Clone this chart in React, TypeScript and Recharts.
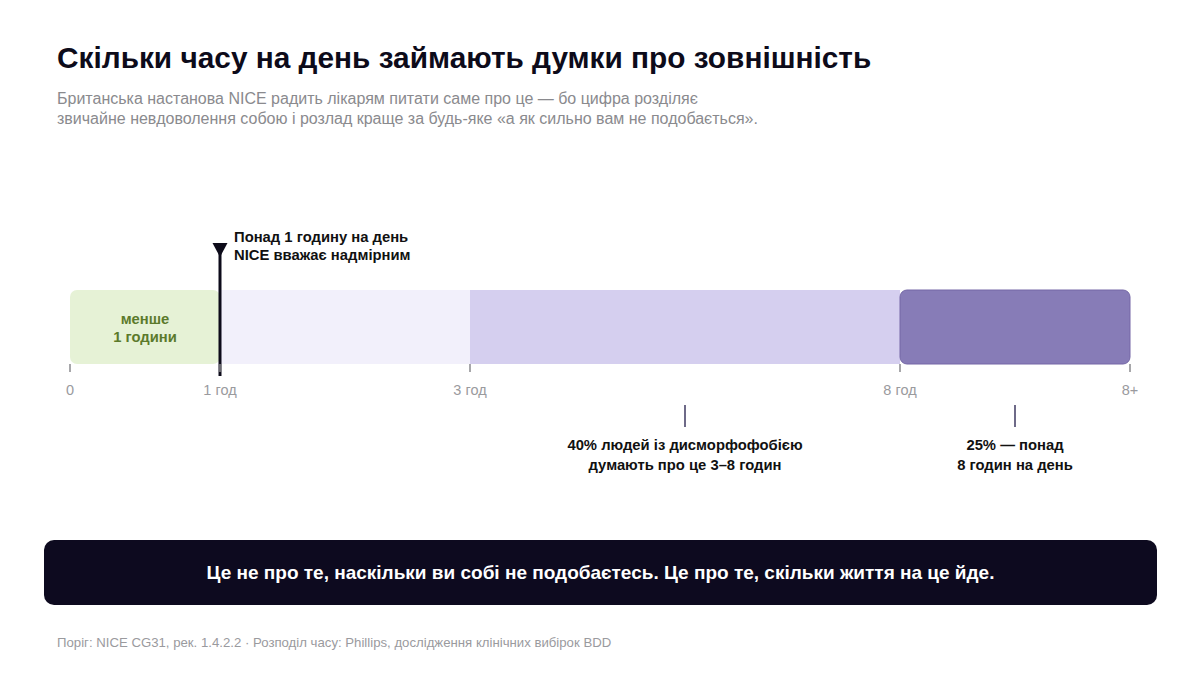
import { Bar, BarChart, LabelList, ReferenceLine, XAxis, YAxis } from 'recharts'

// hour boundaries of the segments; 12 stands in for the open "8+" end
const boundaries = [0, 1, 3, 8, 12]
const tickLabels = ['0', '1 год', '3 год', '8 год', '8+']
const segmentKeys = ['lt1', 'h1to3', 'h3to8', 'h8plus']
const segmentColors = ['#e6f2d6', '#f2f0fb', '#d5cfef', '#877cb7']
const greenLabel = ['менше', '1 години']

const thresholdHours = 1
const thresholdLabel = ['Понад 1 годину на день', 'NICE вважає надмірним']

const callouts = [
  { from: 3, to: 8, lines: ['40% людей із дисморфофобією', 'думають про це 3–8 годин'] },
  { from: 8, to: 12, lines: ['25% — понад', '8 годин на день'] },
]

const title = 'Скільки часу на день займають думки про зовнішність'
const subtitle = [
  'Британська настанова NICE радить лікарям питати саме про це — бо цифра розділяє',
  'звичайне невдоволення собою і розлад краще за будь-яке «а як сильно вам не подобається».',
]
const bannerText = 'Це не про те, наскільки ви собі не подобаєтесь. Це про те, скільки життя на це йде.'
const footer = 'Поріг: NICE CG31, рек. 1.4.2.2 · Розподіл часу: Phillips, дослідження клінічних вибірок BDD'

// visual share of the track given to each segment (the axis is not linear in hours)
const trackWeights = [150, 250, 430, 230]

const FONT = '"Liberation Sans", Arial, sans-serif'

function makePiecewiseScale(stops: number[], weights: number[]) {
  let dom = [stops[0], stops[stops.length - 1]]
  let rng = [0, 1]
  const total = weights.reduce((a, b) => a + b, 0)
  const fr = [0]
  weights.forEach((w) => fr.push(fr[fr.length - 1] + w / total))

  const toFrac = (v: number) => {
    if (v <= stops[0]) return 0
    if (v >= stops[stops.length - 1]) return 1
    for (let i = 0; i < stops.length - 1; i++) {
      if (v <= stops[i + 1]) {
        const t = (v - stops[i]) / (stops[i + 1] - stops[i])
        return fr[i] + t * (fr[i + 1] - fr[i])
      }
    }
    return 1
  }

  const scale: any = (v: number) => rng[0] + toFrac(Number(v)) * (rng[1] - rng[0])
  scale.domain = (d?: number[]) => {
    if (d === undefined) return dom.slice()
    dom = d.slice()
    return scale
  }
  scale.range = (r?: number[]) => {
    if (r === undefined) return rng.slice()
    rng = r.slice()
    return scale
  }
  scale.copy = () => makePiecewiseScale(stops, weights).domain(dom).range(rng)
  scale.ticks = () => stops.slice()
  scale.clamp = () => scale
  scale.invert = (px: number) => {
    const f = (px - rng[0]) / (rng[1] - rng[0])
    for (let i = 0; i < stops.length - 1; i++) {
      if (f <= fr[i + 1]) return stops[i] + ((f - fr[i]) / (fr[i + 1] - fr[i])) * (stops[i + 1] - stops[i])
    }
    return stops[stops.length - 1]
  }
  return scale
}

const hourScale = makePiecewiseScale(boundaries, trackWeights)

const row: Record<string, number | string> = { name: 'time' }
segmentKeys.forEach((k, i) => {
  row[k] = boundaries[i + 1] - boundaries[i]
})
const data = [row]

function ThresholdMarker(props: any) {
  const { x1, y1, y2 } = props
  const top = Math.min(y1, y2)
  const bottom = Math.max(y1, y2)
  return (
    <g>
      <line x1={x1} x2={x1} y1={top - 45} y2={bottom + 12} stroke="#0d0b1a" strokeWidth={3} />
      <polygon points={`${x1 - 7.5},${top - 47} ${x1 + 7.5},${top - 47} ${x1},${top - 33}`} fill="#0d0b1a" />
      {thresholdLabel.map((t, i) => (
        <text
          key={t}
          x={x1 + 14}
          y={top - 48 + i * 18}
          fontFamily={FONT}
          fontSize={14.8}
          fontWeight={700}
          fill="#111"
        >
          {t}
        </text>
      ))}
    </g>
  )
}

function calloutShape(lines: string[]) {
  return (props: any) => {
    const { x1, y1, y2 } = props
    const bottom = Math.max(y1, y2)
    return (
      <g>
        <line x1={x1} x2={x1} y1={bottom + 41} y2={bottom + 63} stroke="#6e6a88" strokeWidth={2} />
        {lines.map((t, i) => (
          <text
            key={t}
            x={x1}
            y={bottom + 86 + i * 20}
            textAnchor="middle"
            fontFamily={FONT}
            fontSize={14.8}
            fontWeight={700}
            fill="#111"
          >
            {t}
          </text>
        ))}
      </g>
    )
  }
}

function GreenLabel(props: any) {
  const { x, y, width, height } = props
  const cx = x + width / 2
  const cy = y + height / 2
  return (
    <g>
      {greenLabel.map((t, i) => (
        <text
          key={t}
          x={cx}
          y={cy - 3 + i * 18}
          textAnchor="middle"
          fontFamily={FONT}
          fontSize={14.8}
          fontWeight={700}
          fill="#5b7a2b"
        >
          {t}
        </text>
      ))}
    </g>
  )
}

export default function App() {
  return (
    <div
      style={{
        position: 'absolute',
        left: 0,
        top: 0,
        width: 1200,
        height: 700,
        background: '#fff',
        fontFamily: FONT,
      }}
    >
      <div
        style={{
          position: 'absolute',
          left: 57,
          top: 40,
          fontSize: 29.8,
          lineHeight: '36px',
          fontWeight: 700,
          color: '#0d0b1a',
          whiteSpace: 'nowrap',
        }}
      >
        {title}
      </div>
      <div
        style={{
          position: 'absolute',
          left: 57,
          top: 89,
          fontSize: 16,
          lineHeight: '20px',
          color: '#8a8a8e',
          whiteSpace: 'nowrap',
        }}
      >
        {subtitle.map((l) => (
          <div key={l}>{l}</div>
        ))}
      </div>

      <div style={{ position: 'absolute', left: 0, top: 200 }}>
        <BarChart
          width={1200}
          height={300}
          data={data}
          layout="vertical"
          margin={{ top: 90, right: 70, bottom: 106, left: 70 }}
          barCategoryGap="0%"
          barGap={0}
        >
          <XAxis
            type="number"
            domain={[boundaries[0], boundaries[boundaries.length - 1]]}
            scale={hourScale}
            ticks={boundaries}
            tickFormatter={(v: number) => tickLabels[boundaries.indexOf(v)] ?? ''}
            axisLine={false}
            tickSize={8}
            tickMargin={13}
            tickLine={{ stroke: '#8a8a8e', strokeWidth: 1.5 }}
            tick={{ fontSize: 14.5, fill: '#9a9a9e', fontFamily: FONT }}
            height={30}
            interval={0}
          />
          <YAxis type="category" dataKey="name" hide width={0} />
          {segmentKeys.map((k, i) => (
            <Bar
              key={k}
              dataKey={k}
              stackId="t"
              fill={segmentColors[i]}
              stroke={i === 3 ? '#7467a6' : 'none'}
              strokeWidth={i === 3 ? 1 : 0}
              radius={i === 0 || i === 3 ? [7, 7, 7, 7] : 0}
              isAnimationActive={false}
            >
              {i === 0 && <LabelList dataKey={k} content={GreenLabel} />}
            </Bar>
          ))}
          <ReferenceLine x={thresholdHours} stroke="none" shape={ThresholdMarker} ifOverflow="visible" />
          {callouts.map((c) => (
            <ReferenceLine
              key={c.lines[0]}
              x={(c.from + c.to) / 2}
              stroke="none"
              shape={calloutShape(c.lines)}
              ifOverflow="visible"
            />
          ))}
        </BarChart>
      </div>

      <div
        style={{
          position: 'absolute',
          left: 44,
          top: 540,
          width: 1113,
          height: 65,
          borderRadius: 10,
          background: '#0d0a1f',
          color: '#fff',
          display: 'flex',
          alignItems: 'center',
          justifyContent: 'center',
          fontSize: 19,
          fontWeight: 700,
        }}
      >
        {bannerText}
      </div>

      <div
        style={{
          position: 'absolute',
          left: 57,
          top: 635,
          fontSize: 13.2,
          lineHeight: '16px',
          color: '#9a9a9e',
          whiteSpace: 'nowrap',
        }}
      >
        {footer}
      </div>
    </div>
  )
}
